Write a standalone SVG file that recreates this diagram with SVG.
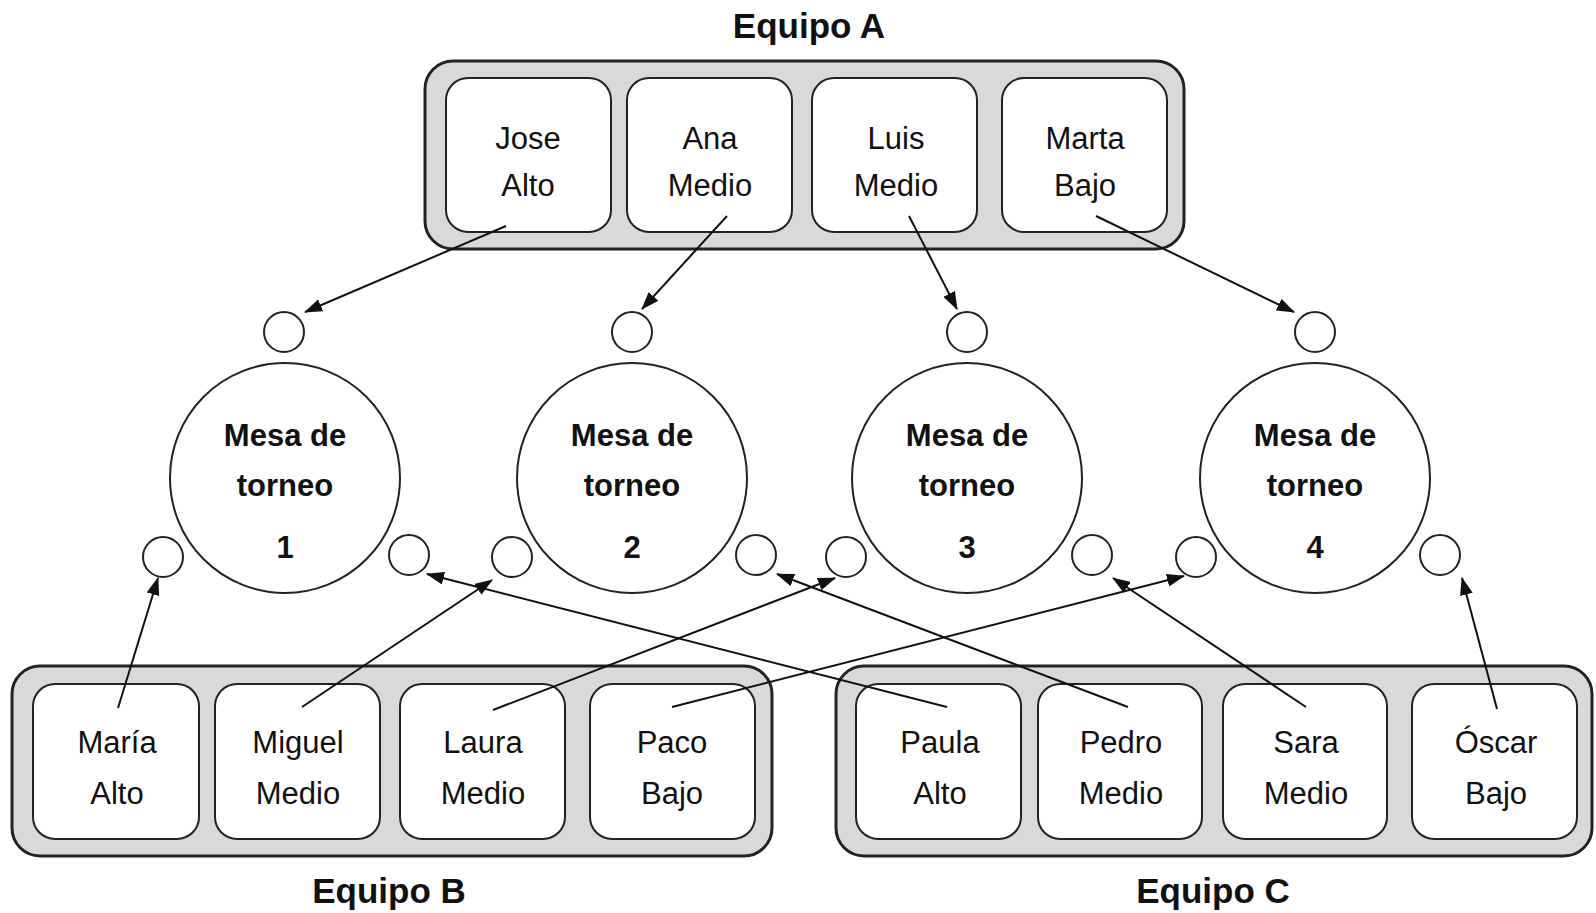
<svg xmlns="http://www.w3.org/2000/svg" width="1596" height="913" viewBox="0 0 1596 913">
<defs>
<marker id="ah" viewBox="0 0 18 13" refX="17" refY="6.5" markerWidth="18" markerHeight="13" markerUnits="userSpaceOnUse" orient="auto">
<path d="M0,0 L18,6.5 L0,13 Z" fill="#111"/>
</marker>
<style>
.team{fill:#d9d9d9;stroke:#222;stroke-width:3}
.mem{fill:#fff;stroke:#222;stroke-width:2}
.name{font-family:"Liberation Sans",Arial,sans-serif;font-size:31px;fill:#111;text-anchor:middle}
.title{font-family:"Liberation Sans",Arial,sans-serif;font-size:35px;font-weight:bold;fill:#111;text-anchor:middle}
.tab{font-family:"Liberation Sans",Arial,sans-serif;font-size:31px;font-weight:bold;fill:#111;text-anchor:middle}
.big{fill:#fff;stroke:#222;stroke-width:2}
.seat{fill:#fff;stroke:#222;stroke-width:2}
.conn{stroke:#111;stroke-width:2;fill:none;marker-end:url(#ah)}
</style>
</defs>
<rect width="1596" height="913" fill="#fff"/>

<g id="equipo-a">
<rect class="team" x="425" y="61" width="759" height="188" rx="28"/>
<text class="title" x="809" y="38">Equipo A</text>
<g id="jose"><rect class="mem" x="446" y="78" width="165" height="154" rx="22"/><text class="name" x="528" y="149">Jose</text><text class="name" x="528" y="196">Alto</text></g>
<g id="ana"><rect class="mem" x="627" y="78" width="165" height="154" rx="22"/><text class="name" x="710" y="149">Ana</text><text class="name" x="710" y="196">Medio</text></g>
<g id="luis"><rect class="mem" x="812" y="78" width="165" height="154" rx="22"/><text class="name" x="896" y="149">Luis</text><text class="name" x="896" y="196">Medio</text></g>
<g id="marta"><rect class="mem" x="1002" y="78" width="165" height="154" rx="22"/><text class="name" x="1085" y="149">Marta</text><text class="name" x="1085" y="196">Bajo</text></g>
</g>

<g id="equipo-b">
<rect class="team" x="12" y="666" width="760" height="190" rx="28"/>
<text class="title" x="389" y="903">Equipo B</text>
<g id="maria"><rect class="mem" x="33" y="684" width="166" height="155" rx="22"/><text class="name" x="117" y="753">María</text><text class="name" x="117" y="804">Alto</text></g>
<g id="miguel"><rect class="mem" x="215" y="684" width="165" height="155" rx="22"/><text class="name" x="298" y="753">Miguel</text><text class="name" x="298" y="804">Medio</text></g>
<g id="laura"><rect class="mem" x="400" y="684" width="165" height="155" rx="22"/><text class="name" x="483" y="753">Laura</text><text class="name" x="483" y="804">Medio</text></g>
<g id="paco"><rect class="mem" x="590" y="684" width="165" height="155" rx="22"/><text class="name" x="672" y="753">Paco</text><text class="name" x="672" y="804">Bajo</text></g>
</g>

<g id="equipo-c">
<rect class="team" x="836" y="666" width="756" height="190" rx="28"/>
<text class="title" x="1213" y="903">Equipo C</text>
<g id="paula"><rect class="mem" x="856" y="684" width="165" height="155" rx="22"/><text class="name" x="940" y="753">Paula</text><text class="name" x="940" y="804">Alto</text></g>
<g id="pedro"><rect class="mem" x="1038" y="684" width="164" height="155" rx="22"/><text class="name" x="1121" y="753">Pedro</text><text class="name" x="1121" y="804">Medio</text></g>
<g id="sara"><rect class="mem" x="1223" y="684" width="164" height="155" rx="22"/><text class="name" x="1306" y="753">Sara</text><text class="name" x="1306" y="804">Medio</text></g>
<g id="oscar"><rect class="mem" x="1412" y="684" width="165" height="155" rx="22"/><text class="name" x="1496" y="753">Óscar</text><text class="name" x="1496" y="804">Bajo</text></g>
</g>

<g id="mesa-1">
<circle class="big" cx="285" cy="478" r="115"/>
<circle class="seat" cx="284" cy="332" r="20"/>
<circle class="seat" cx="163" cy="557" r="20"/>
<circle class="seat" cx="409" cy="555" r="20"/>
<text class="tab" x="285" y="446">Mesa de</text><text class="tab" x="285" y="496">torneo</text><text class="tab" x="285" y="558">1</text>
</g>
<g id="mesa-2">
<circle class="big" cx="632" cy="478" r="115"/>
<circle class="seat" cx="632" cy="332" r="20"/>
<circle class="seat" cx="512" cy="557" r="20"/>
<circle class="seat" cx="756" cy="555" r="20"/>
<text class="tab" x="632" y="446">Mesa de</text><text class="tab" x="632" y="496">torneo</text><text class="tab" x="632" y="558">2</text>
</g>
<g id="mesa-3">
<circle class="big" cx="967" cy="478" r="115"/>
<circle class="seat" cx="967" cy="332" r="20"/>
<circle class="seat" cx="846" cy="557" r="20"/>
<circle class="seat" cx="1092" cy="555" r="20"/>
<text class="tab" x="967" y="446">Mesa de</text><text class="tab" x="967" y="496">torneo</text><text class="tab" x="967" y="558">3</text>
</g>
<g id="mesa-4">
<circle class="big" cx="1315" cy="478" r="115"/>
<circle class="seat" cx="1315" cy="332" r="20"/>
<circle class="seat" cx="1196" cy="557" r="20"/>
<circle class="seat" cx="1440" cy="555" r="20"/>
<text class="tab" x="1315" y="446">Mesa de</text><text class="tab" x="1315" y="496">torneo</text><text class="tab" x="1315" y="558">4</text>
</g>

<g id="connectors">
<line class="conn" x1="506" y1="226" x2="305" y2="312"/>
<line class="conn" x1="727" y1="216" x2="642" y2="309"/>
<line class="conn" x1="909" y1="216" x2="957" y2="309"/>
<line class="conn" x1="1096" y1="216" x2="1294" y2="312"/>
<line class="conn" x1="118" y1="708" x2="158" y2="578"/>
<line class="conn" x1="302" y1="707" x2="492" y2="580"/>
<line class="conn" x1="493" y1="710" x2="835" y2="578"/>
<line class="conn" x1="672" y1="707" x2="1184" y2="576"/>
<line class="conn" x1="947" y1="707" x2="427" y2="574"/>
<line class="conn" x1="1128" y1="707" x2="777" y2="574"/>
<line class="conn" x1="1306" y1="707" x2="1113" y2="578"/>
<line class="conn" x1="1497" y1="709" x2="1462" y2="578"/>
</g>
</svg>
